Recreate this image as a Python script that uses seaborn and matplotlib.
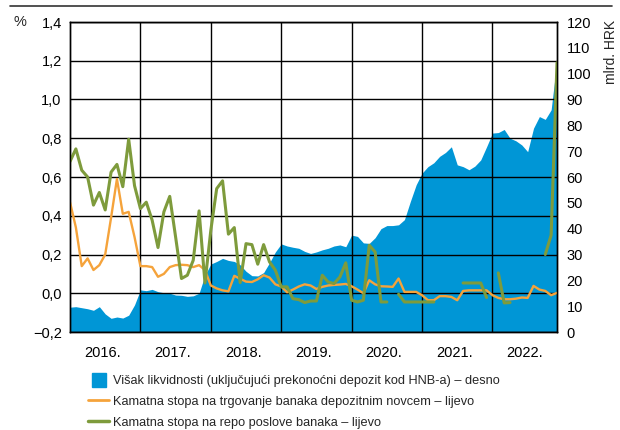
import numpy as np
import pandas as pd
import matplotlib
matplotlib.use("Agg")
import matplotlib.pyplot as plt
from matplotlib.lines import Line2D
from matplotlib.ticker import FuncFormatter
import seaborn as sns

# monthly data, Jan 2016 - Dec 2022
years = ["2016.", "2017.", "2018.", "2019.", "2020.", "2021.", "2022."]

# excess liquidity, bn HRK (right axis)
liquidity = [9.6, 9.8, 9.4, 9.0, 8.4, 9.8, 7.0, 5.3, 5.8, 5.4, 6.5, 10.5,
             16.3, 16.0, 16.5, 15.6, 15.2, 15.0, 14.3, 14.2, 13.8, 14.0, 15.0, 22.0,
             26.3, 27.3, 28.5, 27.7, 27.3, 26.0, 23.5, 21.8, 21.7, 23.0, 26.8, 31.0,
             34.1, 33.3, 32.8, 32.4, 31.2, 30.4, 31.0, 31.8, 32.4, 33.3, 33.7, 33.0,
             37.5, 37.0, 34.5, 34.3, 36.5, 40.0, 41.2, 41.2, 41.5, 43.5, 50.5, 57.0,
             61.5, 64.0, 65.5, 68.0, 69.5, 71.7, 64.7, 64.0, 62.8, 64.2, 66.6, 71.7,
             77.0, 77.2, 78.4, 75.0, 74.0, 72.4, 69.8, 78.9, 83.4, 82.3, 86.0, 105.0]

# overnight interbank rate, % (left axis)
interbank = [0.47, 0.34, 0.14, 0.18, 0.12, 0.145, 0.20, 0.39, 0.59, 0.41, 0.42, 0.29,
             0.14, 0.14, 0.135, 0.085, 0.10, 0.135, 0.145, 0.147, 0.145, 0.135, 0.145, 0.12,
             0.04, 0.025, 0.015, 0.01, 0.09, 0.075, 0.06, 0.058, 0.072, 0.093, 0.081, 0.046,
             0.035, 0.005, 0.019, 0.035, 0.046, 0.04, 0.022, 0.033, 0.04, 0.043, 0.045, 0.048,
             0.036, 0.019, 0.0, 0.067, 0.046, 0.036, 0.035, 0.033, 0.076, 0.007, 0.007, 0.007,
             -0.01, -0.036, -0.036, -0.015, -0.015, -0.019, -0.036, 0.012, 0.015, 0.015, 0.015, 0.015,
             -0.01, -0.024, -0.031, -0.031, -0.028, -0.022, -0.024, 0.038, 0.019, 0.012, -0.01, 0.002]

# repo rate, % (left axis), gaps where no trades
nan = np.nan
repo = [0.68, 0.745, 0.635, 0.60, 0.455, 0.52, 0.43, 0.625, 0.665, 0.55, 0.795, 0.555,
        0.437, 0.47, 0.377, 0.236, 0.42, 0.50, 0.29, 0.076, 0.093, 0.17, 0.425, 0.053,
        0.325, 0.54, 0.58, 0.305, 0.339, 0.055, 0.256, 0.251, 0.15, 0.251, 0.162, 0.119,
        0.033, 0.033, -0.028, -0.033, -0.048, -0.04, -0.04, 0.093, 0.058, 0.05, 0.084, 0.157,
        -0.036, -0.045, -0.036, 0.248, 0.213, -0.045, -0.045, nan, -0.005, -0.045, -0.045, -0.045,
        -0.045, -0.045, -0.045, nan, nan, nan, nan, 0.053, 0.053, 0.053, 0.053, -0.022,
        nan, 0.105, -0.05, -0.048, nan, nan, nan, nan, nan, 0.2, 0.3, 1.19]

labels = ["Višak likvidnosti (uključujući prekonoćni depozit kod HNB-a) – desno",
          "Kamatna stopa na trgovanje banaka depozitnim novcem – lijevo",
          "Kamatna stopa na repo poslove banaka – lijevo"]

BLUE = "#0096d6"
ORANGE = "#f5a33b"
GREEN = "#7e9b3c"

months = np.arange(len(liquidity))
df_repo = pd.DataFrame({"m": months, "v": repo})
df_repo["seg"] = df_repo["v"].isna().cumsum()
df_repo = df_repo.dropna()

sns.set_theme(style="white")
plt.rcParams["font.family"] = ["Liberation Sans", "DejaVu Sans"]
plt.rcParams["axes.unicode_minus"] = True

fig = plt.figure(figsize=(6.2, 4.3), dpi=100)
ax = fig.add_axes([70 / 620, 1 - 332 / 430, 487 / 620, 310 / 430])
ax2 = ax.twinx()
ax.set_zorder(ax2.get_zorder() + 1)
ax.patch.set_visible(False)

ax2.fill_between(months, liquidity, color=BLUE, lw=0)
ax2.set_ylim(0, 120)
ax2.set_yticks(np.arange(0, 121, 10))

sns.lineplot(x=months, y=interbank, ax=ax, color=ORANGE, lw=1.7)
sns.lineplot(data=df_repo, x="m", y="v", units="seg", estimator=None, ax=ax, color=GREEN, lw=2.2)

ax.set_xlim(0, 83)
ax.set_ylim(-0.2, 1.4)
ax.set_yticks(np.arange(-0.2, 1.41, 0.2))
ax.yaxis.set_major_formatter(FuncFormatter(lambda v, p: f"{v:.1f}".replace(".", ",").replace("-", "\u2212")))
ax.set_xticks(np.arange(12, 83, 12), labels=[])
ax.set_xticks(np.arange(5.5, 84, 12), labels=years, minor=True)
ax.grid(True, which="major", color="black", lw=1)
ax.set_xlabel("")
ax.set_ylabel("")

ax.tick_params(axis="y", length=0, labelsize=10.5, pad=6, colors="black")
ax.tick_params(axis="x", which="both", length=0, labelsize=10.5, pad=10, colors="black")
ax2.tick_params(axis="y", length=0, labelsize=10.5, pad=7, colors="black")
for a in (ax, ax2):
    for s in a.spines.values():
        s.set_color("black")
        s.set_linewidth(1)

fig.text(14 / 620, 1 - 22 / 430, "%", fontsize=10.5, va="center", ha="left")
fig.text(611 / 620, 1 - 20 / 430, "mlrd. HRK", fontsize=10, rotation=90, va="top", ha="center")
fig.add_artist(Line2D([10 / 620, 612 / 620], [1 - 6 / 430] * 2, color="#333333", lw=1.2))

handles = [Line2D([], [], marker="s", ls="none", ms=10, color=BLUE),
           Line2D([], [], color=ORANGE, lw=2),
           Line2D([], [], color=GREEN, lw=2.5)]
fig.legend(handles, labels, loc="upper left", bbox_to_anchor=(88 / 620, 1 - 375 / 430),
           frameon=False, fontsize=9.2, handlelength=1.65, handletextpad=0.3,
           labelspacing=0.7, borderpad=0, borderaxespad=0)

fig.savefig("out.png", dpi=100)
